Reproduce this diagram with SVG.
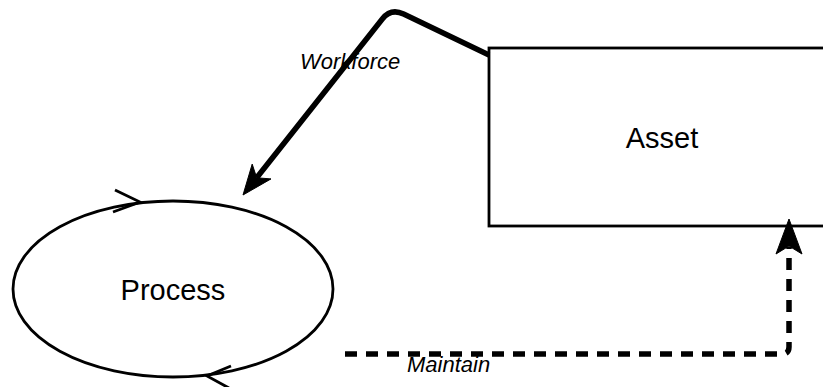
<svg xmlns="http://www.w3.org/2000/svg" width="823" height="387" viewBox="0 0 823 387">
  <style>
    .node { fill: #ffffff; stroke: #000000; stroke-width: 2.8; }
    .label { font-family: "Liberation Sans", Arial, sans-serif; font-size: 29px; fill: #000000; text-anchor: middle; }
    .elabel { font-family: "Liberation Sans", Arial, sans-serif; font-size: 22px; font-style: italic; fill: #000000; }
    .edge { fill: none; stroke: #000000; stroke-width: 5.5; stroke-linejoin: round; }
    .dashed { stroke-dasharray: 12 9; stroke-linejoin: round; }
    .head { fill: #000000; stroke: #000000; stroke-width: 1; stroke-linejoin: miter; }
    .chev { fill: none; stroke: #000000; stroke-width: 2.8; stroke-linecap: butt; }
  </style>
  <rect width="823" height="387" fill="#ffffff"/>

  <g id="asset">
    <rect class="node" x="489" y="48" width="346" height="178"/>
    <text class="label" x="662" y="148">Asset</text>
  </g>

  <g id="process">
    <ellipse class="node" cx="173" cy="289" rx="160" ry="88"/>
    <text class="label" x="173" y="300">Process</text>
    <path class="chev" d="M115,190 L140,202 L113,212"/>
    <path class="chev" d="M231,366 L207,376 L229,388"/>
  </g>

  <g id="connectors">
    <g id="edge-workforce">
      <path class="edge" d="M489,55 L403.6,14.1 Q391,8 382.3,19 L256.7,177.8"/>
      <path class="head" d="M243,195 L252.2,164.1 L256.7,177.8 L271,178.9 Z"/>
      <text class="elabel" x="300" y="69">Workforce</text>
    </g>
    <g id="edge-maintain">
      <path class="edge dashed" d="M345,354 H782 Q789,354 789,347 V247"/>
      <path class="head" d="M789,219 L802,254 L789,246 L776,254 Z"/>
      <text class="elabel" x="407" y="372">Maintain</text>
    </g>
  </g>
</svg>
